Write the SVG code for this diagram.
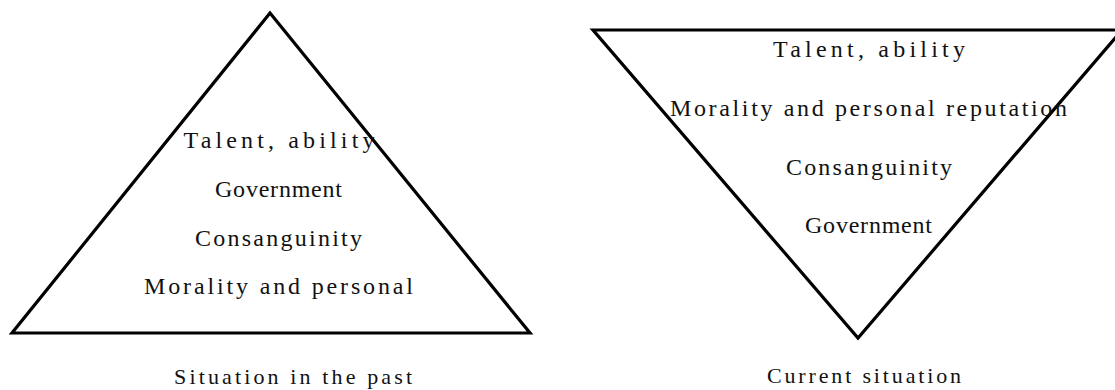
<svg xmlns="http://www.w3.org/2000/svg" width="1115" height="390" viewBox="0 0 1115 390">
  <style>
    .tri { fill: none; stroke: #000; stroke-width: 3.2; stroke-linejoin: miter; }
    .lbl { font-family: "Liberation Serif", "Times New Roman", serif; font-size: 24px; fill: #111; }
    .cap { font-family: "Liberation Serif", "Times New Roman", serif; font-size: 22px; fill: #111; }
  </style>
  <rect width="1115" height="390" fill="#fff"/>
  <g id="past-pyramid">
    <polygon class="tri" points="270,13 530,333 12,333"/>
    <text class="lbl" x="183.5" y="148" textLength="191" lengthAdjust="spacing">Talent, ability</text>
    <text class="lbl" x="215" y="197" textLength="127" lengthAdjust="spacing">Government</text>
    <text class="lbl" x="195" y="246" textLength="167" lengthAdjust="spacing">Consanguinity</text>
    <text class="lbl" x="144" y="294" textLength="269" lengthAdjust="spacing">Morality and personal</text>
  </g>
  <g id="past-caption">
    <text class="cap" x="174" y="384" textLength="238" lengthAdjust="spacing">Situation in the past</text>
  </g>
  <g id="current-pyramid">
    <polygon class="tri" points="593,30 1122,30 858,338"/>
    <text class="lbl" x="773" y="57" textLength="192" lengthAdjust="spacing">Talent, ability</text>
    <text class="lbl" x="670" y="116" textLength="397" lengthAdjust="spacing">Morality and personal reputation</text>
    <text class="lbl" x="786" y="175" textLength="166" lengthAdjust="spacing">Consanguinity</text>
    <text class="lbl" x="805" y="233" textLength="127" lengthAdjust="spacing">Government</text>
  </g>
  <g id="current-caption">
    <text class="cap" x="767" y="383" textLength="194" lengthAdjust="spacing">Current situation</text>
  </g>
  <g id="connectors"/>
</svg>
